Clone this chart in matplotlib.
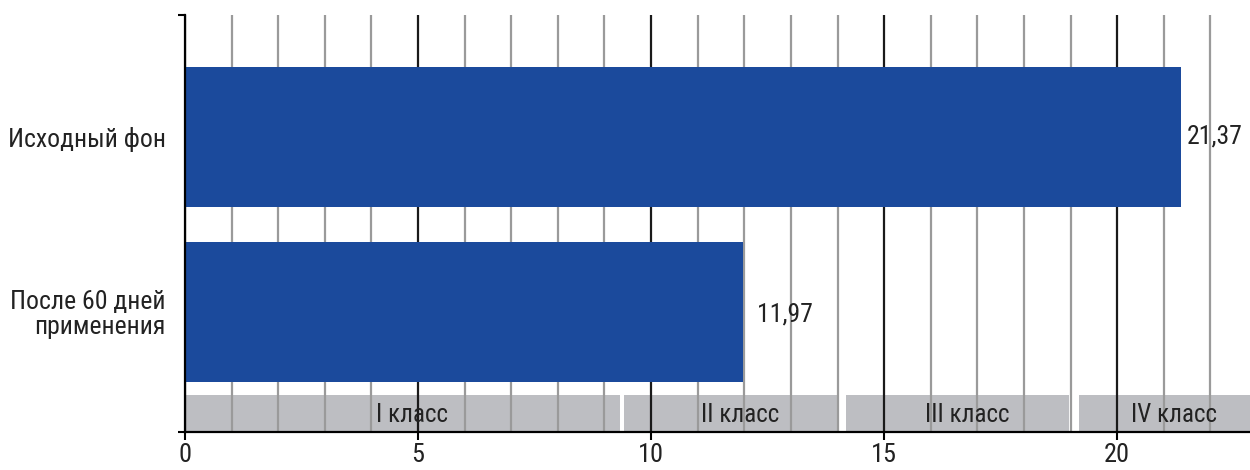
import matplotlib.pyplot as plt
from matplotlib import font_manager
from matplotlib.ticker import MultipleLocator

# узкий шрифт, если он есть
names = {f.name for f in font_manager.fontManager.ttflist}
narrow = [n for n in ["Roboto Condensed", "Liberation Sans Narrow", "Open Sans Condensed"]
          if n in names]
plt.rcParams['font.family'] = narrow + ['DejaVu Sans']
plt.rcParams['font.stretch'] = 'condensed'

# данные
categories = ["После 60 дней\nприменения", "Исходный фон"]
values = [11.97, 21.37]
value_labels = ["11,97", "21,37"]

class_names = ["I класс", "II класс", "III класс", "IV класс"]
class_start = [0.0, 9.42, 14.18, 19.18]
class_end = [9.33, 13.99, 18.97, 22.85]

x_max = 22.85
y_low, y_high = -0.686, 1.697
band_low, band_high = -0.686, -0.474

blue = "#1b4a9c"
band_color = "#bdbec2"
text_color = "#222222"
fs = 18.5

fig = plt.figure(figsize=(12.5, 4.7), dpi=100)
ax = fig.add_axes([0.148, 0.081, 0.852, 0.887])

# полосы классов
for name, s, e in zip(class_names, class_start, class_end):
    ax.barh(band_low, e - s, left=s, height=band_high - band_low, align="edge",
            color=band_color, zorder=0.2)
    ax.text((s + e) / 2 + 0.2, (band_low + band_high) / 2 - 0.01, name,
            ha="center", va="center", fontsize=18, color=text_color, zorder=3)

# основные столбцы
y_pos = list(range(len(categories)))
ax.barh(y_pos, values, height=0.8, color=blue, zorder=2)
label_offset = [10, 4]  # отступ подписи в точках
for y, v, lab, off in zip(y_pos, values, value_labels, label_offset):
    ax.annotate(lab, (v, y), xytext=(off, -2 if y == 0 else 0),
                textcoords="offset points", ha="left", va="center",
                fontsize=fs, color=text_color, zorder=3)

ax.set_xlim(0, x_max)
ax.set_ylim(y_low, y_high)

ax.xaxis.set_major_locator(MultipleLocator(5))
ax.xaxis.set_minor_locator(MultipleLocator(1))
ax.set_axisbelow(True)
ax.grid(True, axis="x", which="minor", color="#9a9a9a", linewidth=1.6)
ax.grid(True, axis="x", which="major", color="#1a1a1a", linewidth=1.6)

ax.set_yticks(y_pos)
ax.set_yticklabels(categories, fontsize=fs, color=text_color, linespacing=1.05)
ax.tick_params(axis="y", which="major", length=0, pad=14)
ax.set_yticks([y_low, y_high], minor=True)
ax.tick_params(axis="y", which="minor", length=5, width=1.5, color="black")

ax.tick_params(axis="x", which="major", length=6, width=1.5, color="black",
               labelsize=19, labelcolor=text_color, pad=2)
ax.tick_params(axis="x", which="minor", length=0)

for side in ["top", "right"]:
    ax.spines[side].set_visible(False)
for side in ["left", "bottom"]:
    ax.spines[side].set_color("black")
    ax.spines[side].set_linewidth(1.6)

plt.savefig("out.png", dpi=100)
plt.close()
